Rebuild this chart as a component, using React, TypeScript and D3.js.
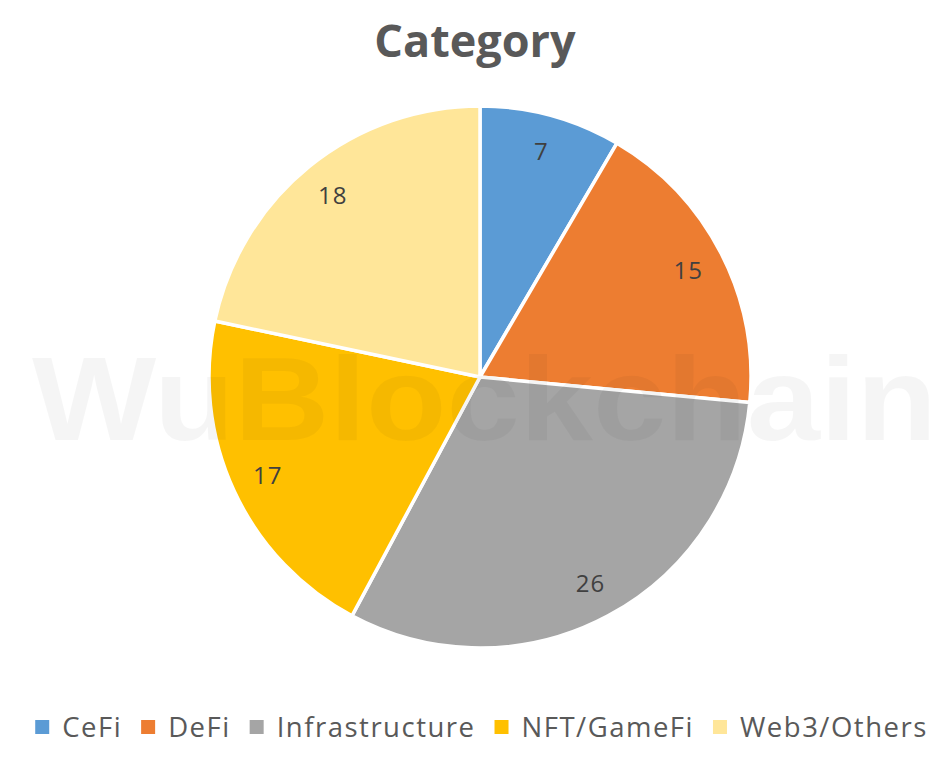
import React, { useEffect, useRef } from "react";
import * as d3 from "d3";

const categories = ["CeFi", "DeFi", "Infrastructure", "NFT/GameFi", "Web3/Others"];
const values = [7, 15, 26, 17, 18];
const colors = ["#5B9BD5", "#ED7D31", "#A5A5A5", "#FFC000", "#FFE699"];
const title = "Category";
const watermark = "WuBlockchain";

const W = 951;
const H = 757;

export default function App() {
  const ref = useRef<SVGSVGElement | null>(null);

  useEffect(() => {
    const svg = d3.select(ref.current);
    svg.selectAll("*").remove();

    svg.append("rect").attr("width", W).attr("height", H).attr("fill", "#fff");

    svg
      .append("text")
      .attr("x", 475)
      .attr("y", 57)
      .attr("text-anchor", "middle")
      .attr("font-family", "'Open Sans', sans-serif")
      .attr("font-weight", 700)
      .attr("font-size", 45)
      .attr("fill", "#595959")
      .text(title);

    const cx = 480, cy = 377, R = 271;
    const data = categories.map((c, i) => ({ c, v: values[i], col: colors[i] }));
    const pie = d3.pie<any>().value((d) => d.v).sort(null);
    const arcs = pie(data);
    const arc = d3.arc<any>().innerRadius(0).outerRadius(R);
    const labelArc = d3.arc<any>().innerRadius(234).outerRadius(234);

    const g = svg.append("g").attr("transform", `translate(${cx},${cy})`);
    g.selectAll("path")
      .data(arcs)
      .join("path")
      .attr("d", arc as any)
      .attr("fill", (d: any) => d.data.col)
      .attr("stroke", "#fff")
      .attr("stroke-width", 3.5)
      .attr("stroke-linejoin", "round");

    // watermark (drawn over the pie, very faint)
    svg
      .append("text")
      .attr("x", 32)
      .attr("y", 440)
      .attr("font-family", "'Liberation Sans Narrow', 'Liberation Sans', sans-serif")
      .attr("font-weight", 700)
      .attr("font-size", 118)
      .attr("textLength", 905)
      .attr("lengthAdjust", "spacingAndGlyphs")
      .attr("fill", "#000")
      .attr("fill-opacity", 0.04)
      .text(watermark);

    const lblG = svg.append("g").attr("transform", `translate(${cx},${cy})`);
    lblG
      .selectAll("text")
      .data(arcs)
      .join("text")
      .attr("transform", (d: any) => `translate(${labelArc.centroid(d)})`)
      .attr("text-anchor", "middle")
      .attr("dy", "0.35em")
      .attr("font-family", "'Open Sans', sans-serif")
      .attr("font-size", 24)
      .attr("letter-spacing", 1)
      .attr("fill", "#404040")
      .text((d: any) => d.data.v);

    // legend
    const lg = svg.append("g");
    const items: { g: any; w: number }[] = [];
    data.forEach((d) => {
      const ig = lg.append("g");
      ig.append("rect").attr("x", 0).attr("y", -7).attr("width", 14).attr("height", 14).attr("fill", d.col);
      const t = ig
        .append("text")
        .attr("x", 27)
        .attr("y", 0)
        .attr("dy", "0.36em")
        .attr("font-family", "'Open Sans', sans-serif")
        .attr("font-size", 27.5)
        .attr("letter-spacing", 1.5)
        .attr("fill", "#595959")
        .text(d.c);
      const tw = (t.node() as SVGTextElement).getComputedTextLength();
      items.push({ g: ig, w: 27 + tw });
    });
    const gap = 19;
    const total = items.reduce((s, it) => s + it.w, 0) + gap * (items.length - 1);
    let x = (W - total) / 2 + 6;
    items.forEach((it) => {
      it.g.attr("transform", `translate(${x},727)`);
      x += it.w + gap;
    });
  }, []);

  return <svg ref={ref} width={W} height={H} style={{ display: "block", margin: -8 }} />;
}
